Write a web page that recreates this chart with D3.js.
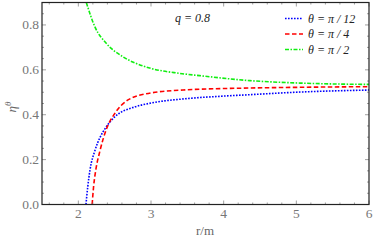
<!DOCTYPE html>
<html><head><meta charset="utf-8">
<script src="https://cdn.jsdelivr.net/npm/d3@7"></script>
<style>
body{margin:0;background:#fff;}
svg{display:block;font-family:"Liberation Serif","DejaVu Serif",serif;}
</style></head>
<body><svg id="c" width="374" height="241"></svg>
<script>
const xTicks = [2,3,4,5,6];
const yTicks = [0.0,0.2,0.4,0.6,0.8];
const seriesNames = ["θ = π / 12","θ = π / 4","θ = π / 2"];
const rBlue = [2.105,2.13,2.16,2.23,2.30,2.37,2.50,2.78,3.00,3.50,4.00,4.40,5.05,6.00];
const etaBlue = [0.0,0.08,0.153,0.242,0.30,0.339,0.39,0.435,0.452,0.472,0.483,0.490,0.501,0.510];
const rRed = [2.19,2.21,2.24,2.30,2.39,2.50,2.69,3.00,3.44,4.36,5.00,6.00];
const etaRed = [0.0,0.08,0.153,0.242,0.339,0.405,0.467,0.497,0.510,0.519,0.522,0.525];
const rGreen = [2.11,2.23,2.39,2.62,2.94,3.40,3.67,4.36,5.05,6.00];
const etaGreen = [0.9,0.79,0.716,0.657,0.612,0.584,0.574,0.552,0.541,0.535];

const svg = d3.select("#c");
const L=42,R=369,T=2.5,B=204.5;
const x = d3.scaleLinear().domain([1.5,6]).range([L,R]);
const y = d3.scaleLinear().domain([0,0.9]).range([B,T]);

const defs = svg.append("defs");
defs.append("clipPath").attr("id","clip").append("rect").attr("x",L).attr("y",T).attr("width",R-L).attr("height",B-T);

const series = [
  {r:rBlue, v:etaBlue, color:"#0000ff", dash:"1.6,1.4"},
  {r:rRed, v:etaRed, color:"#ff0000", dash:"4.5,2.5"},
  {r:rGreen, v:etaGreen, color:"#11ee11", dash:"4,1.5,1.5,1.5"}
];
const line = d3.line().x(d=>x(d[0])).y(d=>y(d[1])).curve(d3.curveMonotoneX);
const g = svg.append("g").attr("clip-path","url(#clip)");
series.forEach(s=>{
  g.append("path").datum(s.r.map((r,i)=>[r,s.v[i]]))
   .attr("d",line).attr("fill","none").attr("stroke",s.color)
   .attr("stroke-width",1.6).attr("stroke-dasharray",s.dash);
});

// ticks (inward, all sides)
const tickCol="#888";
const xMinor = d3.range(1.6,6.001,0.2).filter(v=>Math.abs(v-Math.round(v))>0.01);
const yMinor = d3.range(0.05,0.9,0.05).filter(v=>Math.abs(v*5-Math.round(v*5))>0.01);
const tk = svg.append("g").attr("stroke",tickCol).attr("stroke-width",0.8);
xTicks.forEach(v=>{
  tk.append("line").attr("x1",x(v)).attr("x2",x(v)).attr("y1",B).attr("y2",B-4);
  tk.append("line").attr("x1",x(v)).attr("x2",x(v)).attr("y1",T).attr("y2",T+4);
});
xMinor.forEach(v=>{
  tk.append("line").attr("x1",x(v)).attr("x2",x(v)).attr("y1",B).attr("y2",B-2);
  tk.append("line").attr("x1",x(v)).attr("x2",x(v)).attr("y1",T).attr("y2",T+2);
});
yTicks.forEach(v=>{
  tk.append("line").attr("x1",L).attr("x2",L+4).attr("y1",y(v)).attr("y2",y(v));
  tk.append("line").attr("x1",R).attr("x2",R-4).attr("y1",y(v)).attr("y2",y(v));
});
yMinor.forEach(v=>{
  tk.append("line").attr("x1",L).attr("x2",L+2).attr("y1",y(v)).attr("y2",y(v));
  tk.append("line").attr("x1",R).attr("x2",R-2).attr("y1",y(v)).attr("y2",y(v));
});

// frame
svg.append("rect").attr("x",L).attr("y",T).attr("width",R-L).attr("height",B-T)
  .attr("fill","none").attr("stroke","#222").attr("stroke-width",1.2);

// tick labels
const lab = svg.append("g").attr("fill","#777").attr("font-size",13.5);
xTicks.forEach(v=>{
  lab.append("text").attr("x",x(v)).attr("y",218).attr("text-anchor","middle").text(d3.format("d")(v));
});
yTicks.forEach(v=>{
  lab.append("text").attr("x",39).attr("y",y(v)+4.5).attr("text-anchor","end").text(d3.format(".1f")(v));
});

// axis titles
svg.append("text").attr("x",205).attr("y",235).attr("text-anchor","middle")
  .attr("fill","#666").attr("font-size",13).text("r/m");
const yl = svg.append("text").attr("transform","translate(16,107) rotate(-90)")
  .attr("text-anchor","middle").attr("fill","#666").attr("font-size",13);
yl.append("tspan").attr("font-style","italic").text("η");
yl.append("tspan").attr("font-style","italic").attr("font-size",9).attr("dy",-5).text("θ");

// annotation
const q = svg.append("text").attr("x",175).attr("y",22).attr("font-size",12).attr("fill","#222");
q.append("tspan").attr("font-style","italic").text("q");
q.append("tspan").attr("font-style","italic").text(" = 0.8");

// legend
series.forEach((s,i)=>{
  const yy = 18.5 + i*15.5;
  svg.append("line").attr("x1",285).attr("x2",303).attr("y1",yy).attr("y2",yy)
    .attr("stroke",s.color).attr("stroke-width",1.6).attr("stroke-dasharray",s.dash);
  svg.append("text").attr("x",308).attr("y",yy+4).attr("font-size",12).attr("font-style","italic")
    .attr("fill","#222").text(seriesNames[i]);
});
</script></body></html>
